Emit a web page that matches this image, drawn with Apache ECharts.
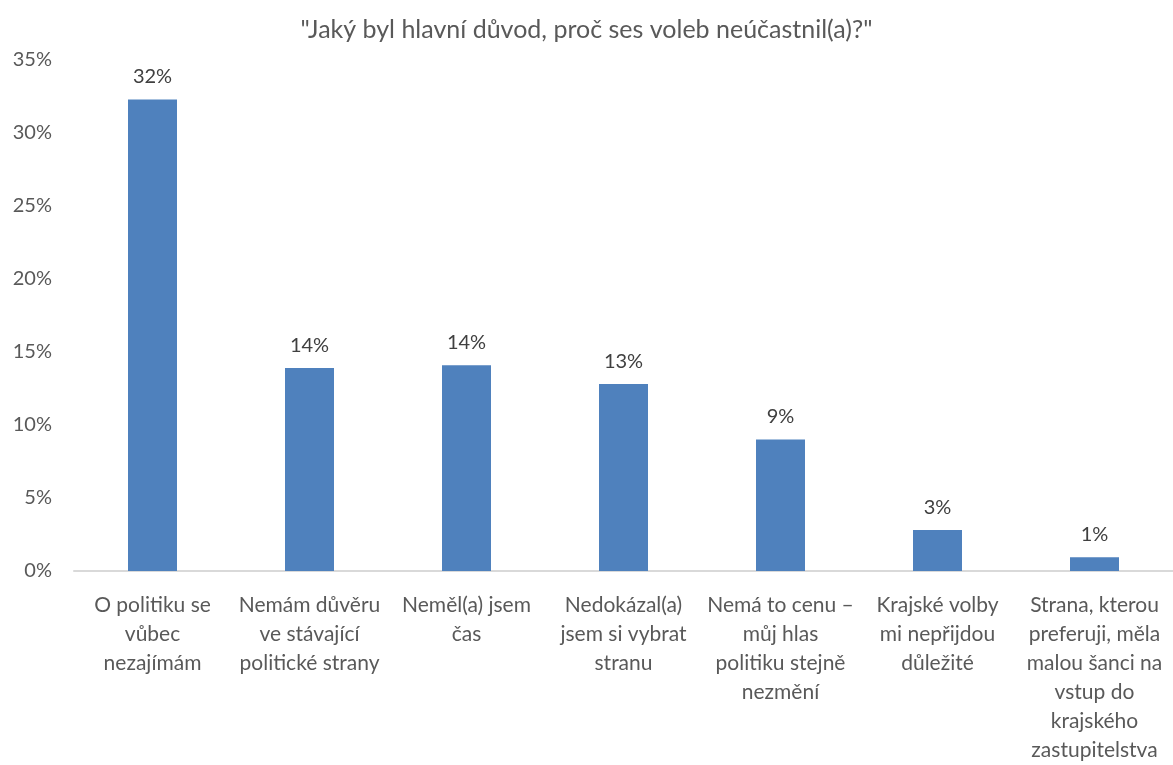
<!DOCTYPE html>
<html>
<head>
<meta charset="utf-8">
<script src="https://cdn.jsdelivr.net/npm/echarts@6/dist/echarts.min.js"></script>
<style>html,body{margin:0;padding:0;background:#fff;}#c{width:1173px;height:765px;}</style>
</head>
<body>
<div id="c"></div>
<script>
const titleText = '"Jaký byl hlavní důvod, proč ses voleb neúčastnil(a)?"';
const categories = [
  'O politiku se\nvůbec\nnezajímám',
  'Nemám důvěru\nve stávající\npolitické strany',
  'Neměl(a) jsem\nčas',
  'Nedokázal(a)\njsem si vybrat\nstranu',
  'Nemá to cenu –\nmůj hlas\npolitiku stejně\nnezmění',
  'Krajské volby\nmi nepřijdou\ndůležité',
  'Strana, kterou\npreferuji, měla\nmalou šanci na\nvstup do\nkrajského\nzastupitelstva'
];
const values = [32.3, 13.9, 14.1, 12.8, 9.0, 2.8, 0.95];
const yTicks = [0, 5, 10, 15, 20, 25, 30, 35];

const FONT = 'Lato';
const chart = echarts.init(document.getElementById('c'));
chart.setOption({
  animation: false,
  title: {
    text: titleText, left: 'center', top: 12,
    textStyle: { fontFamily: FONT, fontSize: 25, fontWeight: 'normal', color: '#595959' }
  },
  grid: { left: 74, right: 0, top: 60, bottom: 192 },
  xAxis: {
    type: 'category', data: categories,
    axisLine: { lineStyle: { color: '#D9D9D9', width: 2 } },
    axisTick: { show: false },
    axisLabel: { interval: 0, margin: 20, fontFamily: FONT, fontSize: 21, lineHeight: 29, color: '#595959' }
  },
  yAxis: {
    type: 'value', min: yTicks[0], max: yTicks[yTicks.length - 1], interval: 5,
    splitLine: { show: false },
    axisLine: { show: false }, axisTick: { show: false },
    axisLabel: { margin: 22, fontFamily: FONT, fontSize: 20, color: '#595959', formatter: v => v + '%' }
  },
  series: [{
    type: 'bar', data: values, barWidth: 49,
    itemStyle: { color: '#4F81BD' },
    label: {
      show: true, position: 'top', distance: 13,
      fontFamily: FONT, fontSize: 20, color: '#404040',
      formatter: p => Math.round(p.value) + '%'
    }
  }]
});
</script>
</body>
</html>
